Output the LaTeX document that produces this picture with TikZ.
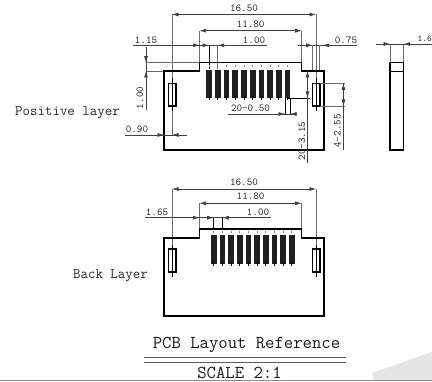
\documentclass[tikz,border=0pt]{standalone}
\usepackage{fontspec}
\usetikzlibrary{arrows.meta}
\definecolor{ext}{gray}{0.42}
\definecolor{dimc}{gray}{0.25}
\tikzset{
 x=1pt,y=-1pt,
 outl/.style={line width=1.4pt,black},
 extl/.style={line width=0.85pt,ext},
 dimn/.style={line width=0.7pt,dimc},
 dimb/.style={dimn,{Latex[length=6.5pt,width=4pt,fill=dimc]}-{Latex[length=6.5pt,width=4pt,fill=dimc]}},
 tip/.style={dimn,-{Latex[length=6.5pt,width=4pt,fill=dimc]}},
 lab/.style={font=\ttfamily\fontsize{10.6}{10.6}\selectfont,text=black!85,inner sep=0pt},
 mid/.style={font=\ttfamily\fontsize{14.5}{14.5}\selectfont,text=black!85,inner sep=0pt},
 big/.style={font=\ttfamily\fontsize{18.2}{18.2}\selectfont,text=black!90,inner sep=0pt},
 padm/.style={line width=5.6pt,black!88},
}
\begin{document}
\begin{tikzpicture}
\useasboundingbox (0,0) rectangle (432,382);
\fill[black!10] (372,373) -- (432,352) -- (432,381) -- (374,381) -- cycle;
\draw[line width=1pt,black!45] (0,381) -- (432,381);
% --- Positive layer ---
\coordinate (pL) at (172,14.5); \coordinate (pR) at (316,14.5);
\coordinate (qL) at (199.5,30.7); \coordinate (qR) at (301.7,30.7);
\draw[extl] (pL) -- (172,83); \draw[extl] (pR) -- (316,83);
\draw[extl] (qL) -- (199.5,63); \draw[extl] (qR) -- (301.7,63);
\draw[dimb] (pL) -- node[lab,above=3pt] {16.50} (pR);
\draw[dimb] (qL) -- node[lab,above=3pt] {11.80} (qR);
% row
\draw[dimn] (133,45.3) -- (267,45.3);
\node[lab] (a) at (146,40.5) {1.15};
\node[lab] (b) at (254,40.5) {1.00};
\draw[tip] (190,45.3) -- (199.5,45.3);
\draw[tip] (199.5,45.3) -- (209,45.3);
\draw[tip] (230,45.3) -- (217.7,45.3);
\draw[line width=.9pt] (209,45.3) -- (209,69);
\draw[extl] (217.7,45.3) -- (217.7,69);
% 0.75
\draw[dimn] (298,45.3) -- (357,45.3);
\node[lab] (c) at (346,40.5) {0.75};
\draw[tip] (303,45.3) -- (312.7,45.3);
\draw[tip] (332,45.3) -- (322.5,45.3);
\draw[extl] (312.7,45.3) -- (312.7,71);
\draw[extl] (319.5,45.3) -- (319.5,71);
% 1.00 vertical
\draw[extl] (146,62.7) -- (199.5,62.7);
\draw[extl] (146,71) -- (164,71);
\draw[dimn] (146,47) -- (146,110);
\draw[tip] (146,50) -- (146,62.7);
\draw[tip] (146,84) -- (146,71);
\node[lab,rotate=90] (d) at (140,98) {1.00};
% outline
\draw[outl] (164,71) -- (199.5,71) -- (199.5,62.7) -- (301.7,62.7) -- (301.7,71) -- (324,71) -- (324,150) -- (164,150) -- cycle;
% slots
\draw[outl] (168.3,83.3) rectangle (176,106);
\draw[outl] (312.7,83.3) rectangle (320,106);
\draw[line width=1pt] (172,78) -- (172,111);
\draw[line width=1pt] (316,78) -- (316,111);
\draw[extl] (172,111) -- (172,135);
% 0.90
\draw[dimn] (125,135) -- (186.5,135);
\node[lab] (e) at (137,129.5) {0.90};
\draw[tip] (154,135) -- (164,135);
\draw[tip] (183,135) -- (172,135);
% pads
\foreach \x in {209,217.7,226.5,235.2,244,252.7,261.3,270,278.7,287.3}{
 \draw[padm] (\x,70) -- (\x,98);
 \draw[line width=1pt] (\x,97) -- (\x,100);
 \draw[line width=.7pt,black!50] (\x,65.5) -- (\x,67.5);
}
% 20-0.50
\draw[dimn] (228,114) -- (297,114);
\node[lab] (f) at (250.5,108) {20-0.50};
\draw[line width=.8pt] (285,98) -- (285,114);
\draw[line width=.8pt] (290,98) -- (290,114);
\draw[tip] (277,114) -- (285,114);
\draw[tip] (297,114) -- (290,114);
% 20-3.15
\draw[line width=.8pt] (287,98) -- (310,98);
\draw[dimn] (307.5,71) -- (307.5,163);
\draw[tip] (307.5,85) -- (307.5,71);
\draw[tip] (307.5,85) -- (307.5,98);
\node[lab,rotate=90] (g) at (302,141) {20-3.15};
% 4-2.55
\draw[extl] (320,83.3) -- (345,83.3);
\draw[extl] (320,106) -- (345,106);
\draw[dimn] (343.5,83.3) -- (343.5,150);
\draw[tip] (343.5,95) -- (343.5,83.3);
\draw[tip] (343.5,95) -- (343.5,106);
\node[lab,rotate=90] (h) at (337.5,131) {4-2.55};
\node[mid] (pl) at (67.5,113) {Positive layer};
% side view
\draw[extl] (390,44) -- (390,62.7); \draw[extl] (403.7,44) -- (403.7,62.7);
\draw[dimn] (376,44) -- (432,44);
\draw[tip] (380,44) -- (390,44);
\draw[tip] (414,44) -- (403.7,44);
\node[lab,anchor=west,font=\ttfamily\fontsize{9}{9}\selectfont] (i) at (417.5,38.5) {1.6};
\draw[outl] (390,62.7) rectangle (403.7,150);
\draw[outl] (390,71.7) -- (403.7,71.7);
% --- Back layer ---
\coordinate (rL) at (172,189); \coordinate (rR) at (316,189);
\coordinate (sL) at (199.5,203.3); \coordinate (sR) at (301.7,203.3);
\draw[extl] (rL) -- (172,249); \draw[extl] (rR) -- (316,249);
\draw[extl] (sL) -- (199.5,229); \draw[extl] (sR) -- (301.7,229);
\draw[dimb] (rL) -- node[lab,above=3pt] {16.50} (rR);
\draw[dimb] (sL) -- node[lab,above=3pt] {11.80} (sR);
\draw[dimn] (145,217.7) -- (271,217.7);
\node[lab] (j) at (157,212) {1.65};
\node[lab] (k) at (258,212) {1.00};
\draw[tip] (190,217.7) -- (199.5,217.7);
\draw[tip] (206,217.7) -- (213.7,217.7);
\draw[tip] (234,217.7) -- (222.3,217.7);
\draw[line width=.9pt] (213.7,217.7) -- (213.7,229);
\draw[line width=.9pt] (222.3,217.7) -- (222.3,229);
\draw[outl] (164,238) -- (199.5,238) -- (199.5,229) -- (301.7,229) -- (301.7,238) -- (324,238) -- (324,316) -- (164,316) -- cycle;
\draw[outl] (168.3,249) rectangle (176,272);
\draw[outl] (312.7,249) rectangle (320,272);
\draw[line width=1pt] (172,245) -- (172,277);
\draw[line width=1pt] (316,245) -- (316,277);
\foreach \x in {213.7,222.4,231,239.7,248.3,257,265.7,274.3,283,291.7}{
 \draw[padm] (\x,235) -- (\x,264);
 \draw[line width=1pt] (\x,263) -- (\x,266);
 \draw[line width=.7pt,black!50] (\x,231.5) -- (\x,233.5);
}
\node[mid] (bl) at (110.5,276) {Back Layer};
% title
\node[big] (t) at (246.5,344.5) {PCB Layout Reference};
\draw[line width=1.1pt,black!65] (144,357.3) -- (346,357.3);
\draw[line width=1.1pt,black!65] (144,362.7) -- (346,362.7);
\node[big] (u) at (239.5,372.5) {SCALE 2:1};
\end{tikzpicture}
\end{document}
